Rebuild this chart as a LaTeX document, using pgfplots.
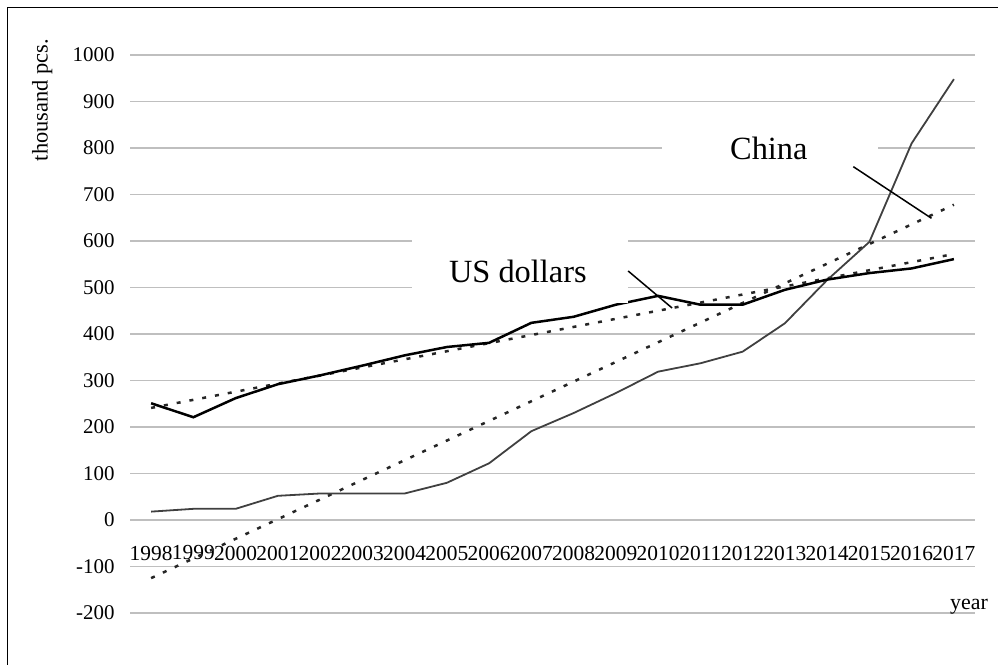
\documentclass[border=0pt]{standalone}
\usepackage{fontspec}
\setmainfont{Liberation Serif}
\usepackage{pgfplots}
\pgfplotsset{compat=1.18}
\begin{document}
\begin{tikzpicture}[x=1bp,y=1bp]
\useasboundingbox (0,0) rectangle (998,665);
\draw[line width=1.5bp] (7.5,0) -- (7.5,657.5) -- (998,657.5);
\begin{axis}[
  at={(130bp,52bp)}, anchor=south west,
  scale only axis, width=845bp, height=558bp,
  xmin=1997.5, xmax=2017.5, ymin=-200, ymax=1000,
  xtick={1998,1999,2000,2001,2002,2003,2004,2005,2006,2007,2008,2009,2010,2011,2012,2013,2014,2015,2016,2017},
  xticklabels={1998,1999,2000,2001,2002,2003,2004,2005,2006,2007,2008,2009,2010,2011,2012,2013,2014,2015,2016,2017},
  ytick={-200,-100,0,100,200,300,400,500,600,700,800,900,1000},
  yticklabels={-200,-100,0,100,200,300,400,500,600,700,800,900,1000},
  axis line style={draw=none},
  major tick length=0pt,
  ymajorgrids,
  grid style={color=black!25, line width=1.5bp},
  xticklabel style={anchor=center, yshift=60bp, font=\fontsize{21.5}{24}\selectfont},
  yticklabel style={anchor=east, xshift=-12bp, font=\fontsize{21}{24}\selectfont},
  ylabel={thousand pcs.},
  ylabel style={at={(axis description cs:-0.104,0.919)}, anchor=center, font=\fontsize{22.5}{24}\selectfont},
  xlabel={year},
  xlabel style={at={(axis description cs:0.993,0.011)}, anchor=center, font=\fontsize{22}{24}\selectfont},
  clip=false,
]
% trend lines
\addplot[black!85, line width=2.5bp, dash pattern=on 4bp off 9bp] coordinates {(1998,241) (2017,572)};
\addplot[black!85, line width=2.5bp, dash pattern=on 4bp off 9bp] coordinates {(1998,-125) (2017,678)};
% China
\addplot[black!75, line width=1.8bp] coordinates {
(1998,18) (1999,24) (2000,24) (2001,52) (2002,57) (2003,57) (2004,57) (2005,80) (2006,122) (2007,191)
(2008,230) (2009,273) (2010,319) (2011,337) (2012,362) (2013,423) (2014,516) (2015,598) (2016,810) (2017,948)};
% US dollars
\addplot[black, line width=2.5bp] coordinates {
(1998,251) (1999,221) (2000,262) (2001,292) (2002,311) (2003,332) (2004,354) (2005,372) (2006,381) (2007,424)
(2008,437) (2009,463) (2010,482) (2011,463) (2012,463) (2013,495) (2014,517) (2015,531) (2016,541) (2017,561)};
% annotations
\fill[white] (axis cs:2004.17,467) rectangle (axis cs:2009.29,628);
\node[font=\fontsize{32.5}{34}\selectfont, inner sep=0pt] at (axis cs:2006.68,535.5) {US dollars};
\draw[line width=1.5bp] (axis cs:2009.29,535.5) -- (axis cs:2010.33,455.9);
\fill[white] (axis cs:2010.09,720) rectangle (axis cs:2015.2,871);
\node[font=\fontsize{32.5}{34}\selectfont, inner sep=0pt] at (axis cs:2012.62,800) {China};
\draw[line width=1.5bp] (axis cs:2014.62,759.8) -- (axis cs:2016.47,648.8);
\end{axis}
\end{tikzpicture}
\end{document}
